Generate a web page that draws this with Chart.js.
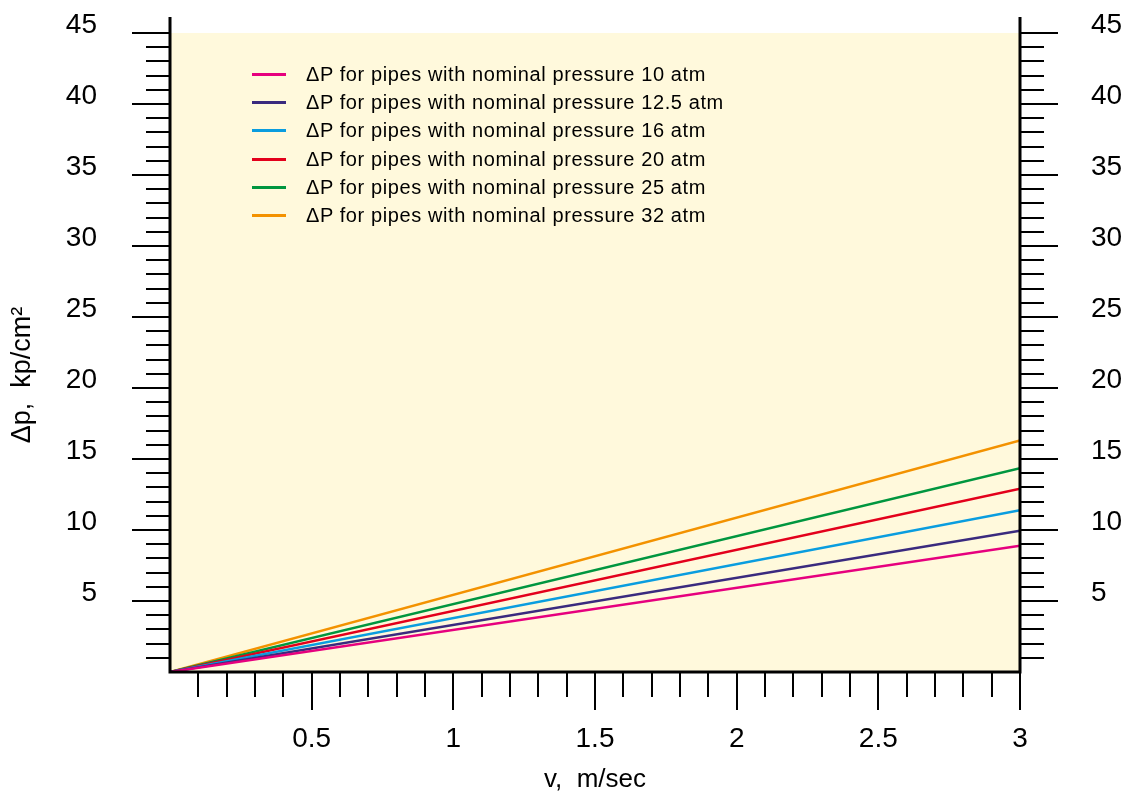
<!DOCTYPE html>
<html>
<head>
<meta charset="utf-8">
<script src="https://cdn.jsdelivr.net/npm/chart.js@4.4.1/dist/chart.umd.min.js"></script>
<style>
  body { margin: 0; background: #fff; }
  #wrap { position: relative; width: 1133px; height: 803px; }
  #legend {
    position: absolute; left: 252px; top: 60px;
    font-family: "Liberation Sans", Arial, sans-serif; font-size: 20px; letter-spacing: 0.6px; color: #000;
  }
  .row { display: flex; align-items: center; height: 28.3px; white-space: nowrap; }
  .swatch { width: 34px; height: 3px; margin-right: 20px; }
</style>
</head>
<body>
<div id="wrap">
  <canvas id="grafico" width="1133" height="803"></canvas>
  <div id="legend"></div>
</div>
<script>
/* DATOS */
const velocidades = [0, 3]
const dp10 = [0, 8.9]
const dp12_5 = [0, 9.95]
const dp16 = [0, 11.4]
const dp20 = [0, 12.9]
const dp25 = [0, 14.35]
const dp32 = [0, 16.3]

const nombresSeries = [
  "ΔP for pipes with nominal pressure 10 atm",
  "ΔP for pipes with nominal pressure 12.5 atm",
  "ΔP for pipes with nominal pressure 16 atm",
  "ΔP for pipes with nominal pressure 20 atm",
  "ΔP for pipes with nominal pressure 25 atm",
  "ΔP for pipes with nominal pressure 32 atm"
]
const valoresSeries = [dp10, dp12_5, dp16, dp20, dp25, dp32]
const coloresSeries = ["#e6007e", "#3a2a7e", "#0a9ddf", "#e3001b", "#00963f", "#f39200"]

const ejeX = { min: 0, max: 3, paso: 0.5, pasoMenor: 0.1 }
const ejeY = { min: 0, max: 45, paso: 5, pasoMenor: 1 }

const tituloX = "v,  m/sec"
const tituloY = "Δp,  kp/cm²"

const fuente = "'Liberation Sans', Arial, sans-serif"

/* LEYENDA */
let legend = document.getElementById("legend")
for (let i = 0; i < nombresSeries.length; i++) {
    legend.innerHTML += `<div class="row"><span class="swatch" style="background:${coloresSeries[i]}"></span><span>${nombresSeries[i]}</span></div>`
}

/* MARCAS DE EJES Y FONDO */
const marcasEjes = {
    id: "marcasEjes",
    beforeDatasetsDraw(chart) {
        const { ctx, chartArea: a } = chart
        ctx.save()
        ctx.fillStyle = "#fff9dc"
        ctx.fillRect(a.left, a.top, a.right - a.left, a.bottom - a.top)
        ctx.restore()
    },
    afterDatasetsDraw(chart) {
        const { ctx, chartArea: a, scales } = chart
        ctx.save()
        ctx.strokeStyle = "#000"
        ctx.lineWidth = 2
        ctx.beginPath()
        let nY = Math.round((ejeY.max - ejeY.min) / ejeY.pasoMenor)
        for (let i = 1; i <= nY; i++) {
            let v = ejeY.min + i * ejeY.pasoMenor
            let p = Math.round(scales.y.getPixelForValue(v))
            let largo = (i % Math.round(ejeY.paso / ejeY.pasoMenor) == 0) ? 38 : 24
            ctx.moveTo(a.left - largo, p); ctx.lineTo(a.left, p)
            ctx.moveTo(a.right, p); ctx.lineTo(a.right + largo, p)
        }
        let nX = Math.round((ejeX.max - ejeX.min) / ejeX.pasoMenor)
        for (let i = 1; i <= nX; i++) {
            let v = ejeX.min + i * ejeX.pasoMenor
            let p = Math.round(scales.x.getPixelForValue(v))
            let largo = (i % Math.round(ejeX.paso / ejeX.pasoMenor) == 0) ? 38 : 25
            ctx.moveTo(p, a.bottom); ctx.lineTo(p, a.bottom + largo)
        }
        ctx.stroke()

        ctx.lineWidth = 3
        ctx.beginPath()
        ctx.moveTo(a.left, a.top - 16); ctx.lineTo(a.left, a.bottom + 1.5)
        ctx.moveTo(a.right, a.top - 16); ctx.lineTo(a.right, a.bottom + 1.5)
        ctx.moveTo(a.left, a.bottom); ctx.lineTo(a.right, a.bottom)
        ctx.stroke()
        ctx.restore()
    }
}

function etiqueta(valor) {
    return valor == 0 ? "" : valor
}

let datasets = []
for (let i = 0; i < valoresSeries.length; i++) {
    datasets.push({
        label: nombresSeries[i],
        data: velocidades.map((v, j) => ({ x: v, y: valoresSeries[i][j] })),
        borderColor: coloresSeries[i],
        backgroundColor: coloresSeries[i],
        borderWidth: 2.5,
        pointRadius: 0,
        fill: false
    })
}

let config = {
    type: "line",
    data: { datasets: datasets },
    options: {
        responsive: false,
        animation: false,
        layout: { autoPadding: false, padding: { top: 33, left: 0, right: 0, bottom: 0 } },
        plugins: { legend: { display: false }, tooltip: { enabled: false } },
        scales: {
            x: {
                type: "linear", position: "bottom",
                min: ejeX.min, max: ejeX.max,
                grid: { display: false, tickLength: 50 }, border: { display: false },
                ticks: { stepSize: ejeX.paso, autoSkip: false, maxRotation: 0, padding: 0, color: "#000",
                         font: { family: fuente, size: 28 }, callback: etiqueta },
                title: { display: true, text: tituloX, color: "#000", font: { family: fuente, size: 26 },
                         padding: { top: 0, bottom: 8 } },
                afterFit: s => { s.height = 131 }
            },
            y: {
                type: "linear", position: "left",
                min: ejeY.min, max: ejeY.max,
                grid: { display: false, tickLength: 73 }, border: { display: false },
                ticks: { stepSize: ejeY.paso, autoSkip: false, padding: 0, labelOffset: -8, color: "#000",
                         font: { family: fuente, size: 28 }, callback: etiqueta },
                title: { display: true, text: tituloY + "      ", color: "#000", font: { family: fuente, size: 27 },
                         padding: { top: 6, bottom: 0 } },
                afterFit: s => { s.width = 170 }
            },
            y2: {
                type: "linear", position: "right",
                min: ejeY.min, max: ejeY.max,
                grid: { display: false, tickLength: 71 }, border: { display: false },
                ticks: { stepSize: ejeY.paso, autoSkip: false, padding: 0, labelOffset: -8, color: "#000",
                         font: { family: fuente, size: 28 }, callback: etiqueta },
                afterFit: s => { s.width = 113 }
            }
        }
    },
    plugins: [marcasEjes]
}

let grafico = new Chart(document.getElementById("grafico").getContext("2d"), config)
</script>
</body>
</html>
